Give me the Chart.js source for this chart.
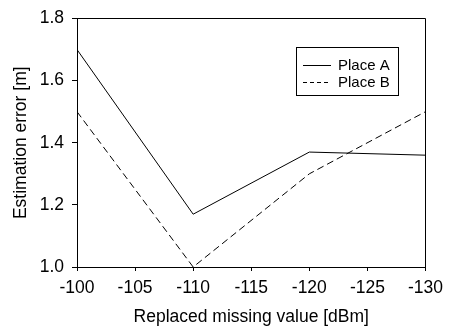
<!DOCTYPE html>
<html lang="en">
<head>
    <meta charset="UTF-8">
    <title>Estimation error vs replaced missing value</title>
    <script src="https://cdn.jsdelivr.net/npm/chart.js"></script>
    <style>
        html, body { margin: 0; padding: 0; background: #fff; }
        #wrap { width: 450px; height: 328px; }
    </style>
</head>
<body>
    <div id="wrap"><canvas id="myChart" width="450" height="328"></canvas></div>
    <script>
        // data
        const missingValues = [-100, -110, -120, -130];
        const placeA = [1.70, 1.17, 1.37, 1.36];
        const placeB = [1.50, 1.00, 1.30, 1.50];
        const seriesLabels = ['Place A', 'Place B'];
        const xTicks = [-100, -105, -110, -115, -120, -125, -130];
        const yTicks = [1.0, 1.2, 1.4, 1.6, 1.8];

        const FONT = 'Liberation Sans, Arial, sans-serif';
        const AXIS_SIZE = 17.5;

        // same pixel snapping Chart.js uses for 1px lines
        const snap = p => Math.round(p - 0.5) + 0.5;

        // top and right edges of the frame (the axes give the other two)
        const framePlugin = {
            id: 'frame',
            afterDatasetsDraw(chart) {
                const a = chart.chartArea;
                const ctx = chart.ctx;
                ctx.save();
                ctx.strokeStyle = '#000';
                ctx.lineWidth = 1;
                ctx.beginPath();
                ctx.moveTo(snap(a.left), snap(a.top));
                ctx.lineTo(snap(a.right), snap(a.top));
                ctx.lineTo(snap(a.right), snap(a.bottom));
                ctx.stroke();
                ctx.restore();
            }
        };

        // boxed legend inside the plot, upper right
        const boxLegend = {
            id: 'boxLegend',
            afterDraw(chart) {
                const ctx = chart.ctx;
                const a = chart.chartArea;
                const x0 = Math.round(a.right) - 129, y0 = Math.round(a.top) + 28;
                const w = 102, h = 48;
                ctx.save();
                ctx.fillStyle = '#fff';
                ctx.fillRect(x0, y0, w, h);
                ctx.strokeStyle = '#000';
                ctx.lineWidth = 1;
                ctx.strokeRect(x0 + 0.5, y0 + 0.5, w, h);
                ctx.font = '15px ' + FONT;
                ctx.textBaseline = 'middle';
                chart.data.datasets.forEach((ds, i) => {
                    const y = y0 + 18 + i * 17;
                    ctx.setLineDash(ds.borderDash ? [4, 3] : []);
                    ctx.beginPath();
                    ctx.moveTo(x0 + 7, y + 0.5);
                    ctx.lineTo(x0 + 35, y + 0.5);
                    ctx.strokeStyle = '#000';
                    ctx.stroke();
                    ctx.setLineDash([]);
                    ctx.fillStyle = '#000';
                    ctx.fillText(ds.label, x0 + 42, y + 1);
                });
                ctx.restore();
            }
        };

        const ctx = document.getElementById('myChart').getContext('2d');
        new Chart(ctx, {
            type: 'line',
            data: {
                datasets: [{
                    label: seriesLabels[0],
                    data: missingValues.map((x, i) => ({ x: x, y: placeA[i] })),
                    borderColor: '#000',
                    borderWidth: 1,
                    pointRadius: 0,
                    tension: 0
                }, {
                    label: seriesLabels[1],
                    data: missingValues.map((x, i) => ({ x: x, y: placeB[i] })),
                    borderColor: '#000',
                    borderWidth: 1,
                    borderDash: [7, 4],
                    pointRadius: 0,
                    tension: 0
                }]
            },
            options: {
                responsive: false,
                animation: false,
                layout: { padding: { top: 14, right: 23, left: 0, bottom: 0 } },
                plugins: {
                    legend: { display: false },
                    tooltip: { enabled: false }
                },
                scales: {
                    x: {
                        type: 'linear',
                        reverse: true,
                        min: -130,
                        max: -100,
                        afterBuildTicks: s => { s.ticks = xTicks.map(v => ({ value: v })); },
                        afterFit: s => { s.height = 61; },
                        grid: { drawOnChartArea: false, tickLength: 4, color: '#000' },
                        border: { color: '#000' },
                        ticks: { color: '#000', font: { family: FONT, size: AXIS_SIZE }, padding: 7, maxRotation: 0 },
                        title: {
                            display: true,
                            text: 'Replaced missing value [dBm]',
                            color: '#000',
                            font: { family: FONT, size: AXIS_SIZE },
                            padding: { top: 0, bottom: 0 }
                        }
                    },
                    y: {
                        min: 1.0,
                        max: 1.8,
                        afterBuildTicks: s => { s.ticks = yTicks.map(v => ({ value: v })); },
                        afterFit: s => { s.width = 77; },
                        grid: { drawOnChartArea: false, tickLength: 5, color: '#000' },
                        border: { color: '#000' },
                        ticks: {
                            color: '#000',
                            font: { family: FONT, size: AXIS_SIZE },
                            padding: 8,
                            callback: v => v.toFixed(1)
                        },
                        title: {
                            display: true,
                            text: 'Estimation error [m]',
                            color: '#000',
                            font: { family: FONT, size: AXIS_SIZE },
                            padding: { top: 11, bottom: 0 }
                        }
                    }
                }
            },
            plugins: [framePlugin, boxLegend]
        });
    </script>
</body>
</html>
